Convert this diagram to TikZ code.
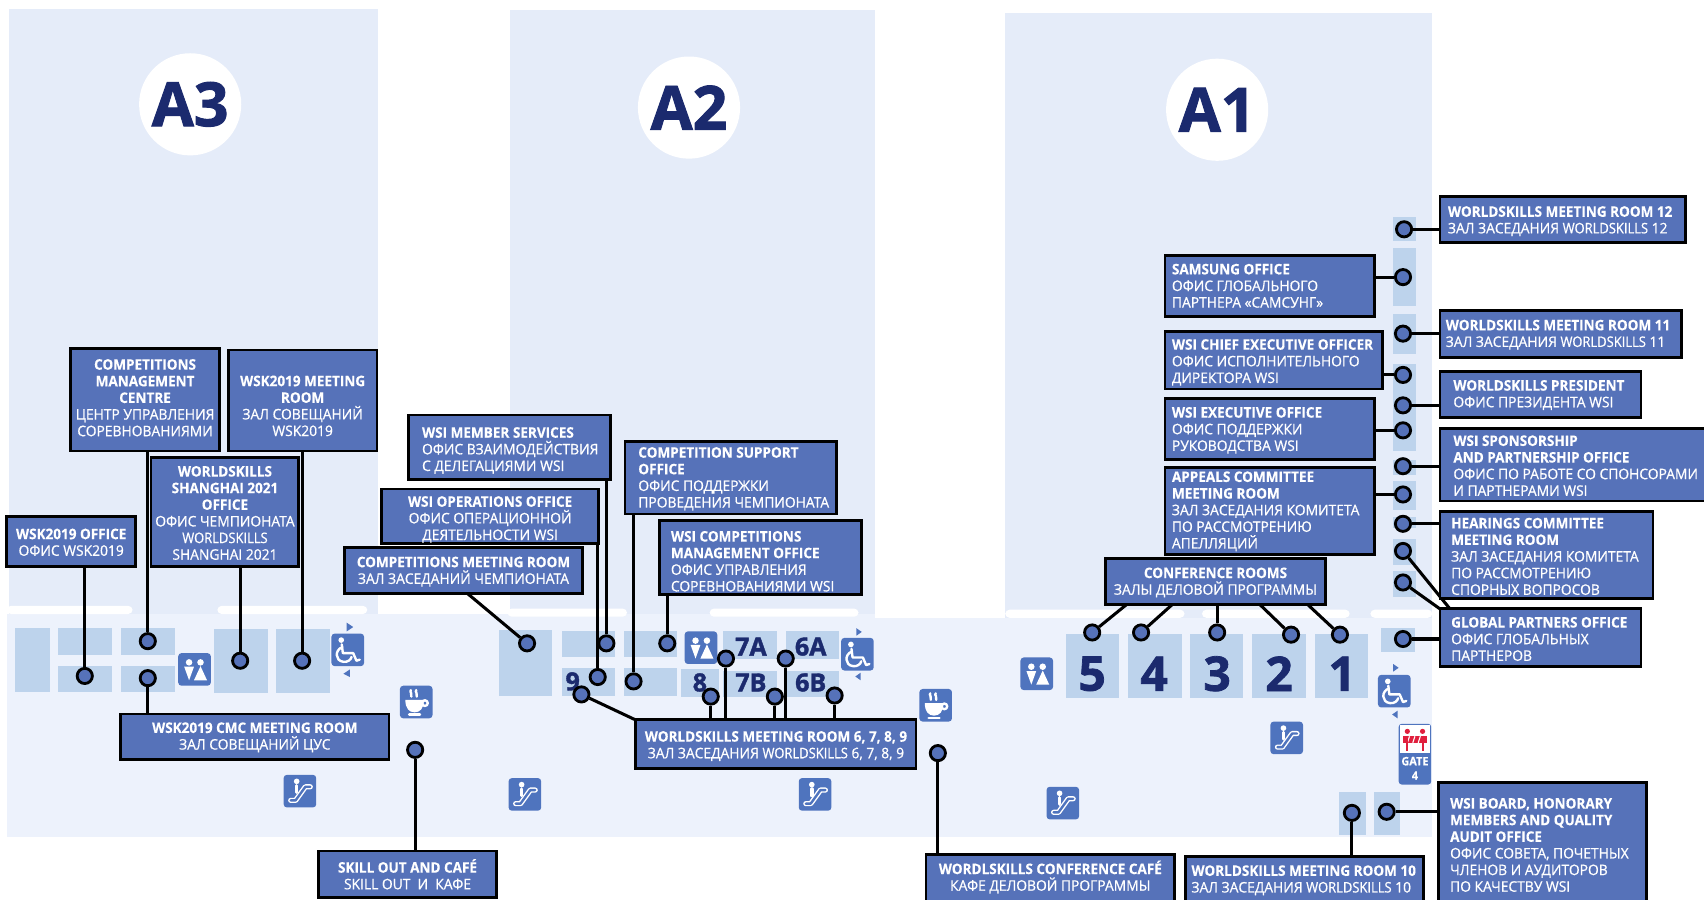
\documentclass[tikz,border=0pt]{standalone}
\usepackage{fontspec}
\setmainfont{Open Sans}[FakeStretch=0.95,FakeBold=0.7,BoldFeatures={FakeStretch=0.93,FakeBold=0.2}]
\newfontfamily\numfont{Open Sans}[BoldFeatures={FakeBold=1.6}]
\newfontfamily\latn{Open Sans}[FakeStretch=0.89,FakeBold=0.7]
\newcommand{\WS}{{\latn WORLDSKILLS}}
\definecolor{boxblue}{HTML}{5672B9}
\definecolor{panel}{HTML}{E5ECF9}
\definecolor{band}{HTML}{EDF2FC}
\definecolor{tile}{HTML}{BDD3EC}
\definecolor{iconblue}{HTML}{4F74BE}
\definecolor{navy}{HTML}{1B2A6E}
\definecolor{barrier}{HTML}{E01F3D}
\tikzset{
  x=0.5pt,y=-0.5pt,
  lblbox/.style={draw=black,line width=1.25pt,fill=boxblue,inner sep=0pt},
  lbltext/.style={text=white,inner sep=0pt,font=\fontsize{6.7}{7.65}\selectfont},
  marker/.style={circle,draw=black,line width=1.3pt,fill=boxblue,minimum size=7pt,inner sep=0pt},
  conn/.style={black,line width=1.4pt},
  roomnum/.style={text=navy,font=\numfont\bfseries\fontsize{11.5}{12}\selectfont,inner sep=0pt},
  bignum/.style={text=navy,font=\numfont\bfseries\fontsize{22}{24}\selectfont,inner sep=0pt},
  hall/.style={text=navy,font=\numfont\bfseries\fontsize{28}{30}\selectfont,inner sep=0pt},
  hallcircle/.style={circle,fill=white,minimum size=47pt,inner sep=0pt},
  iconbg/.style={fill=iconblue,rounded corners=1.5pt},
  ico/.style={white,line width=1.1pt,line cap=round,line join=round},
  wcicon/.pic={
    \fill[iconbg] (0,0) rectangle (30,30);
    \fill[white] (10,8.5) circle (3);
    \fill[white] (20.5,8.5) circle (3);
    \fill[white] (5.5,12.5)--(14.5,12.5)--(10,25)--cycle;
    \fill[white] (20.5,12)--(26.5,25)--(14.5,25)--cycle;
  },
  wheelicon/.pic={
    \fill[iconbg] (0,0) rectangle (30,30);
    \fill[white] (9,6) circle (2.6);
    \draw[ico] (9.5,10)--(10.5,18)--(20,18)--(23,25)--(26,24);
    \draw[ico] (10,12.5) .. controls (3,15) and (3,25) .. (11,26) .. controls (15,26.5) and (18,24) .. (18.5,21.5);
  },
  cupicon/.pic={
    \fill[iconbg] (0,0) rectangle (30,30);
    \draw[ico] (10,4) .. controls (8.5,6) and (12,7) .. (10.5,10);
    \draw[ico] (15,4) .. controls (13.5,6) and (17,7) .. (15.5,10);
    \fill[white] (5,13)--(22,13) .. controls (22,21) and (18.5,24.5) .. (13.5,24.5) .. controls (8.5,24.5) and (5,21) .. (5,13)--cycle;
    \draw[ico] (23,16) circle (2.6);
    \draw[ico] (8.5,26.5)--(18.5,26.5);
  },
  escicon/.pic={
    \fill[iconbg] (0,0) rectangle (30,30);
    \draw[white,line width=2.4pt,line cap=round,line join=round] (6.5,23.5)--(11,23.5)--(20,11)--(24.5,11);
    \draw[iconblue,line width=1.1pt,line cap=round,line join=round] (6.5,23.5)--(11,23.5)--(20,11)--(24.5,11);
    \fill[white] (12,6) circle (2.6);
    \draw[white,line width=1.6pt,line cap=round] (12,10)--(12,16);
  },
}
% name x1 y1 x2 y2 dy text (centred)
\newcommand{\lblc}[7]{%
  \pgfmathsetmacro{\bw}{(#4-#2)*0.5}\pgfmathsetmacro{\bh}{(#5-#3)*0.5}
  \node[lblbox,minimum width=\bw pt,minimum height=\bh pt] (#1) at ({(#2+#4)/2},{(#3+#5)/2}) {};
  \node[lbltext,align=center] (#1t) at ({(#2+#4)/2},{(#3+#5)/2+#6}) {#7};}
% name x1 y1 x2 y2 dy pad text (left)
\newcommand{\lbll}[8]{%
  \pgfmathsetmacro{\bw}{(#4-#2)*0.5}\pgfmathsetmacro{\bh}{(#5-#3)*0.5}
  \node[lblbox,minimum width=\bw pt,minimum height=\bh pt] (#1) at ({(#2+#4)/2},{(#3+#5)/2}) {};
  \node[lbltext,align=left,anchor=west] (#1t) at ({#2+#7},{(#3+#5)/2+#6}) {#8};}
\newcommand{\tile}[4]{\fill[tile] (#1,#2) rectangle (#3,#4);}
\newcommand{\strip}[3]{\fill[white,rounded corners=2pt] (#1,#3) rectangle (#2,#3+7.5);}
\begin{document}
\begin{tikzpicture}
\useasboundingbox (0,0) rectangle (1568,827.3);
\clip (0,0) rectangle (1568,827.3);
\fill[white] (0,0) rectangle (1568,827.3);
% panels
\fill[panel] (8,8) rectangle (348,566);
\fill[panel] (469,9) rectangle (805,568);
\fill[panel] (925,12) rectangle (1318,569);
\fill[band] (6,565) rectangle (805,770);
\fill[band] (805,569) rectangle (1318,770);
\strip{6}{122}{557.5}\strip{200}{338}{557.5}
\strip{467}{577}{560}\strip{653}{790}{560}
\strip{925}{1090}{561}\strip{1106}{1242}{561}\strip{1261}{1318}{561}
% tiles
\tile{14}{578}{46}{637}\tile{53}{578}{103}{603}\tile{53}{613}{103}{637}
\tile{111}{578}{161}{603}\tile{111}{613}{161}{637}\tile{197}{579}{247}{638}\tile{254}{579}{304}{638}
\tile{459}{580}{508}{640}\tile{517}{581}{566}{605}\tile{517}{615}{566}{640}
\tile{574}{581}{623}{605}\tile{574}{615}{623}{640}\tile{627}{616}{662}{641}
\tile{665}{581}{715}{606}\tile{665}{617}{715}{641}\tile{723}{581}{772}{606}\tile{723}{617}{772}{641}
\tile{981}{583}{1030}{642}\tile{1038}{583}{1088}{642}\tile{1095}{583}{1144}{642}
\tile{1152}{583}{1202}{642}\tile{1210}{583}{1259}{642}
\tile{1282}{200}{1303}{222}\tile{1282}{228}{1303}{282}\tile{1282}{289}{1303}{326}
\tile{1282}{335}{1303}{415}\tile{1282}{423}{1303}{437}\tile{1282}{443}{1303}{469}
\tile{1282}{476}{1303}{486}\tile{1282}{496}{1303}{520}\tile{1282}{525}{1303}{549}
\tile{1271}{578}{1302}{600}\tile{1232}{729}{1257}{768}\tile{1264}{729}{1288}{768}
% hall labels
\node[hallcircle] (ca3) at (175,96) {}; \node[hall] (a3) at (175,96) {A3};
\node[hallcircle] (ca2) at (634,99) {}; \node[hall] (a2) at (634,99) {A2};
\node[hallcircle] (ca1) at (1120,101) {}; \node[hall] (a1) at (1120,101) {A1};
% room numbers
\node[roomnum] (n9) at (527,627) {9};
\node[roomnum] (n8) at (644,628) {8};
\node[roomnum] (n7a) at (691,595) {7A};
\node[roomnum] (n6a) at (746,595) {6A};
\node[roomnum] (n7b) at (691,628) {7B};
\node[roomnum] (n6b) at (746,628) {6B};
\node[bignum] (n5) at (1005,620) {5};
\node[bignum] (n4) at (1062,620) {4};
\node[bignum] (n3) at (1120,620) {3};
\node[bignum] (n2) at (1177,620) {2};
\node[bignum] (n1) at (1235,620) {1};
% icons
\pic at (164,601) {wcicon}; \pic at (630,581) {wcicon}; \pic at (939,605) {wcicon};
\pic at (305,583) {wheelicon}; \pic at (774,587) {wheelicon}; \pic at (1268,621) {wheelicon};
\pic at (368,631) {cupicon}; \pic at (846,634) {cupicon};
\pic at (261,713) {escicon}; \pic at (468,716) {escicon}; \pic at (735,716) {escicon};
\pic at (963,724) {escicon}; \pic at (1169,664) {escicon};
% small arrows
\fill[iconblue] (319,573)--(319,581)--(325,577)--cycle;
\fill[iconblue] (322,616)--(322,623)--(316,620)--cycle;
\fill[iconblue] (788,578)--(788,585)--(793,581.5)--cycle;
\fill[iconblue] (792,619)--(792,626)--(787,622.5)--cycle;
\fill[iconblue] (1282,611)--(1282,618)--(1287,614.5)--cycle;
\fill[iconblue] (1286,654)--(1286,661)--(1281,657.5)--cycle;
% gate
\fill[iconbg] (1287,666) rectangle (1317,722);
\fill[white] (1288,667) rectangle (1316,693);
\fill[barrier] (1291,677) rectangle (1313,684);
\draw[white,line width=0.5pt] (1295,683.5)--(1297,677.5) (1300,683.5)--(1302,677.5) (1305,683.5)--(1307,677.5);
\draw[barrier,line width=0.9pt] (1295,677)--(1295,691) (1309,677)--(1309,691);
\fill[barrier] (1295,673) circle (2.4) (1309,673) circle (2.4);
\node[text=white,align=center,inner sep=0pt,font=\bfseries\fontsize{5.4}{6.6}\selectfont] (gate) at (1302,707) {GATE\\4};
% markers
\foreach \n/\x/\y in {m1/136/590,m2/78/622,m3/136/624,m4/221/608,m5/278/608,m6/382/690,
  m7/485/592,m8/558/592,m9/614/592,m10/668/606,m11/723/606,m12/535/639,m13/550/623,m14/583/627,
  m15/654/641,m16/713/641,m17/768/640,m18/863/693,
  c5/1005/582,c4/1050/582,c3/1120/582,c2/1188/584,c1/1233/584,
  r12/1292/211,rs/1291/255,r11/1291/307,rc/1291/345,rp/1291/373,re/1291/396,rw/1291/429,
  ra/1291/455,rh/1291/482,rg1/1291/507,rg2/1291/536,rg3/1291/588,rb/1276/747,r10/1244/748}
  {\node[marker] (\n) at (\x,\y) {};}
% boxes
\lblc{bcmc}{65}{321}{202}{415}{-2}{\bfseries COMPETITIONS\\\bfseries MANAGEMENT\\\bfseries CENTRE\\ЦЕНТР УПРАВЛЕНИЯ\\СОРЕВНОВАНИЯМИ}
\lblc{bwm}{210}{322}{347}{415}{5}{\bfseries WSK2019 MEETING\\\bfseries ROOM\\ЗАЛ СОВЕЩАНИЙ\\WSK2019}
\lblc{bsh}{139}{421}{275}{521}{1}{\bfseries WORLDSKILLS\\\bfseries SHANGHAI 2021\\\bfseries OFFICE\\ОФИС ЧЕМПИОНАТА\\\WS\\SHANGHAI 2021}
\lblc{bwo}{6}{475}{125}{521}{1}{\bfseries WSK2019 OFFICE\\ОФИС WSK2019}
\lblc{bcm}{111}{657}{358}{699}{0.5}{\bfseries WSK2019 CMC MEETING ROOM\\ЗАЛ СОВЕЩАНИЙ ЦУС}
\lblc{bso}{293}{783}{457}{826}{0}{\bfseries SKILL OUT AND CAFÉ\\SKILL OUT\ \ И\ \ КАФЕ}
\lbll{bms}{376}{382}{562}{441}{3}{12}{\bfseries WSI MEMBER SERVICES\\ОФИС ВЗАИМОДЕЙСТВИЯ\\С ДЕЛЕГАЦИЯМИ WSI}
\lblc{bop}{351}{450}{551}{500}{3}{\bfseries WSI OPERATIONS OFFICE\\ОФИС ОПЕРАЦИОННОЙ\\ДЕЯТЕЛЬНОСТИ WSI}
\lblc{bcr}{317}{504}{536}{546}{1}{\bfseries COMPETITIONS MEETING ROOM\\ЗАЛ ЗАСЕДАНИЙ ЧЕМПИОНАТА}
\lbll{bcs}{575}{406}{770}{473}{1}{12}{\bfseries COMPETITION SUPPORT\\\bfseries OFFICE\\ОФИС ПОДДЕРЖКИ\\ПРОВЕДЕНИЯ ЧЕМПИОНАТА}
\lbll{bcg}{607}{479}{793}{547}{3.5}{10}{\bfseries WSI COMPETITIONS\\\bfseries MANAGEMENT OFFICE\\ОФИС УПРАВЛЕНИЯ\\СОРЕВНОВАНИЯМИ WSI}
\lblc{bws}{585}{662}{843}{707}{2}{\bfseries WORLDSKILLS MEETING ROOM 6, 7, 8, 9\\ЗАЛ ЗАСЕДАНИЯ \WS{} 6, 7, 8, 9}
\lblc{bcf}{852}{786}{1081}{832}{-2}{\bfseries WORDLSKILLS CONFERENCE CAFÉ\\КАФЕ ДЕЛОВОЙ ПРОГРАММЫ}
\lbll{br10}{1091}{788}{1310}{832}{0}{5}{\bfseries WORLDSKILLS MEETING ROOM 10\\ЗАЛ ЗАСЕДАНИЯ \WS{} 10}
\lbll{bbd}{1324}{720}{1515}{835}{0}{10}{\bfseries WSI BOARD, HONORARY\\\bfseries MEMBERS AND QUALITY\\\bfseries AUDIT OFFICE\\ОФИС СОВЕТА, ПОЧЕТНЫХ\\ЧЛЕНОВ И АУДИТОРОВ\\ПО КАЧЕСТВУ WSI}
\lbll{bsm}{1072}{235}{1265}{291}{0}{6}{\bfseries SAMSUNG OFFICE\\ОФИС ГЛОБАЛЬНОГО\\ПАРТНЕРА «САМСУНГ»}
\lbll{bce}{1072}{305}{1272}{358}{2}{6}{\bfseries WSI CHIEF EXECUTIVE OFFICER\\ОФИС ИСПОЛНИТЕЛЬНОГО\\ДИРЕКТОРА WSI}
\lbll{bex}{1072}{367}{1265}{423}{1}{6}{\bfseries WSI EXECUTIVE OFFICE\\ОФИС ПОДДЕРЖКИ\\РУКОВОДСТВА WSI}
\lbll{bap}{1072}{430}{1265}{510}{0.5}{6}{\bfseries APPEALS COMMITTEE\\\bfseries MEETING ROOM\\ЗАЛ ЗАСЕДАНИЯ КОМИТЕТА\\ПО РАССМОТРЕНИЮ\\АПЕЛЛЯЦИЙ}
\lblc{bcn}{1017}{514}{1220}{556}{1}{\bfseries CONFERENCE ROOMS\\ЗАЛЫ ДЕЛОВОЙ ПРОГРАММЫ}
\lbll{b12}{1325}{181}{1551}{223}{1.5}{7}{\bfseries WORLDSKILLS MEETING ROOM 12\\ЗАЛ ЗАСЕДАНИЯ \WS{} 12}
\lbll{b11}{1325}{286}{1547}{329}{0.5}{5}{\bfseries WORLDSKILLS MEETING ROOM 11\\ЗАЛ ЗАСЕДАНИЯ \WS{} 11}
\lbll{bpr}{1325}{342}{1510}{384}{0.5}{12}{\bfseries WORLDSKILLS PRESIDENT\\ОФИС ПРЕЗИДЕНТА WSI}
\lbll{bsp}{1325}{394}{1574}{461}{1}{12}{\bfseries WSI SPONSORSHIP\\\bfseries AND PARTNERSHIP OFFICE\\ОФИС ПО РАБОТЕ СО СПОНСОРАМИ\\И ПАРТНЕРАМИ WSI}
\lbll{bgp}{1325}{560}{1510}{613}{1.5}{10}{\bfseries GLOBAL PARTNERS OFFICE\\ОФИС ГЛОБАЛЬНЫХ\\ПАРТНЕРОВ}
% connectors that run behind the hearings box
\draw[conn] (rg1) -- (1334,560);
\draw[conn] (rg2) -- (1326,561);
\lbll{bhr}{1325}{471}{1521}{551}{1}{10}{\bfseries HEARINGS COMMITTEE\\\bfseries MEETING ROOM\\ЗАЛ ЗАСЕДАНИЯ КОМИТЕТА\\ПО РАССМОТРЕНИЮ\\СПОРНЫХ ВОПРОСОВ}
% vertical connectors
\draw[conn] (m2) -- (m2 |- bwo.south);
\draw[conn] (m1) -- (m1 |- bcmc.south);
\draw[conn] (m3) -- (m3 |- bcm.north);
\draw[conn] (m4) -- (m4 |- bsh.south);
\draw[conn] (m5) -- (m5 |- bwm.south);
\draw[conn] (m6) -- (m6 |- bso.north);
\draw[conn] (m8) -- (m8 |- bms.south);
\draw[conn] (m13) -- (m13 |- bop.south);
\draw[conn] (m14) -- (m14 |- bcs.south);
\draw[conn] (m9) -- (m9 |- bcg.south);
\draw[conn] (m7) -- (430,546);
\draw[conn] (m12) -- (586,663);
\draw[conn] (m15) -- (m15 |- bws.north);
\draw[conn] (m10) -- (m10 |- bws.north);
\draw[conn] (m16) -- (m16 |- bws.north);
\draw[conn] (m11) -- (m11 |- bws.north);
\draw[conn] (m17) -- (m17 |- bws.north);
\draw[conn] (m18) -- (m18 |- bcf.north);
\draw[conn] (r10) -- (r10 |- br10.north);
\draw[conn] (c5) -- (1037,556);
\draw[conn] (c4) -- (1079,556);
\draw[conn] (c3) -- (c3 |- bcn.south);
\draw[conn] (c2) -- (1159,556);
\draw[conn] (c1) -- (1203,556);
% horizontal connectors
\draw[conn] (r12) -- (r12 -| b12.west);
\draw[conn] (r11) -- (r11 -| b11.west);
\draw[conn] (rp) -- (rp -| bpr.west);
\draw[conn] (rw) -- (rw -| bsp.west);
\draw[conn] (rh) -- (rh -| bhr.west);
\draw[conn] (rg3) -- (rg3 -| bgp.west);
\draw[conn] (rb) -- (rb -| bbd.west);
\draw[conn] (rs) -- (rs -| bsm.east);
\draw[conn] (rc) -- (rc -| bce.east);
\draw[conn] (re) -- (re -| bex.east);
\draw[conn] (ra) -- (ra -| bap.east);
\end{tikzpicture}
\end{document}
